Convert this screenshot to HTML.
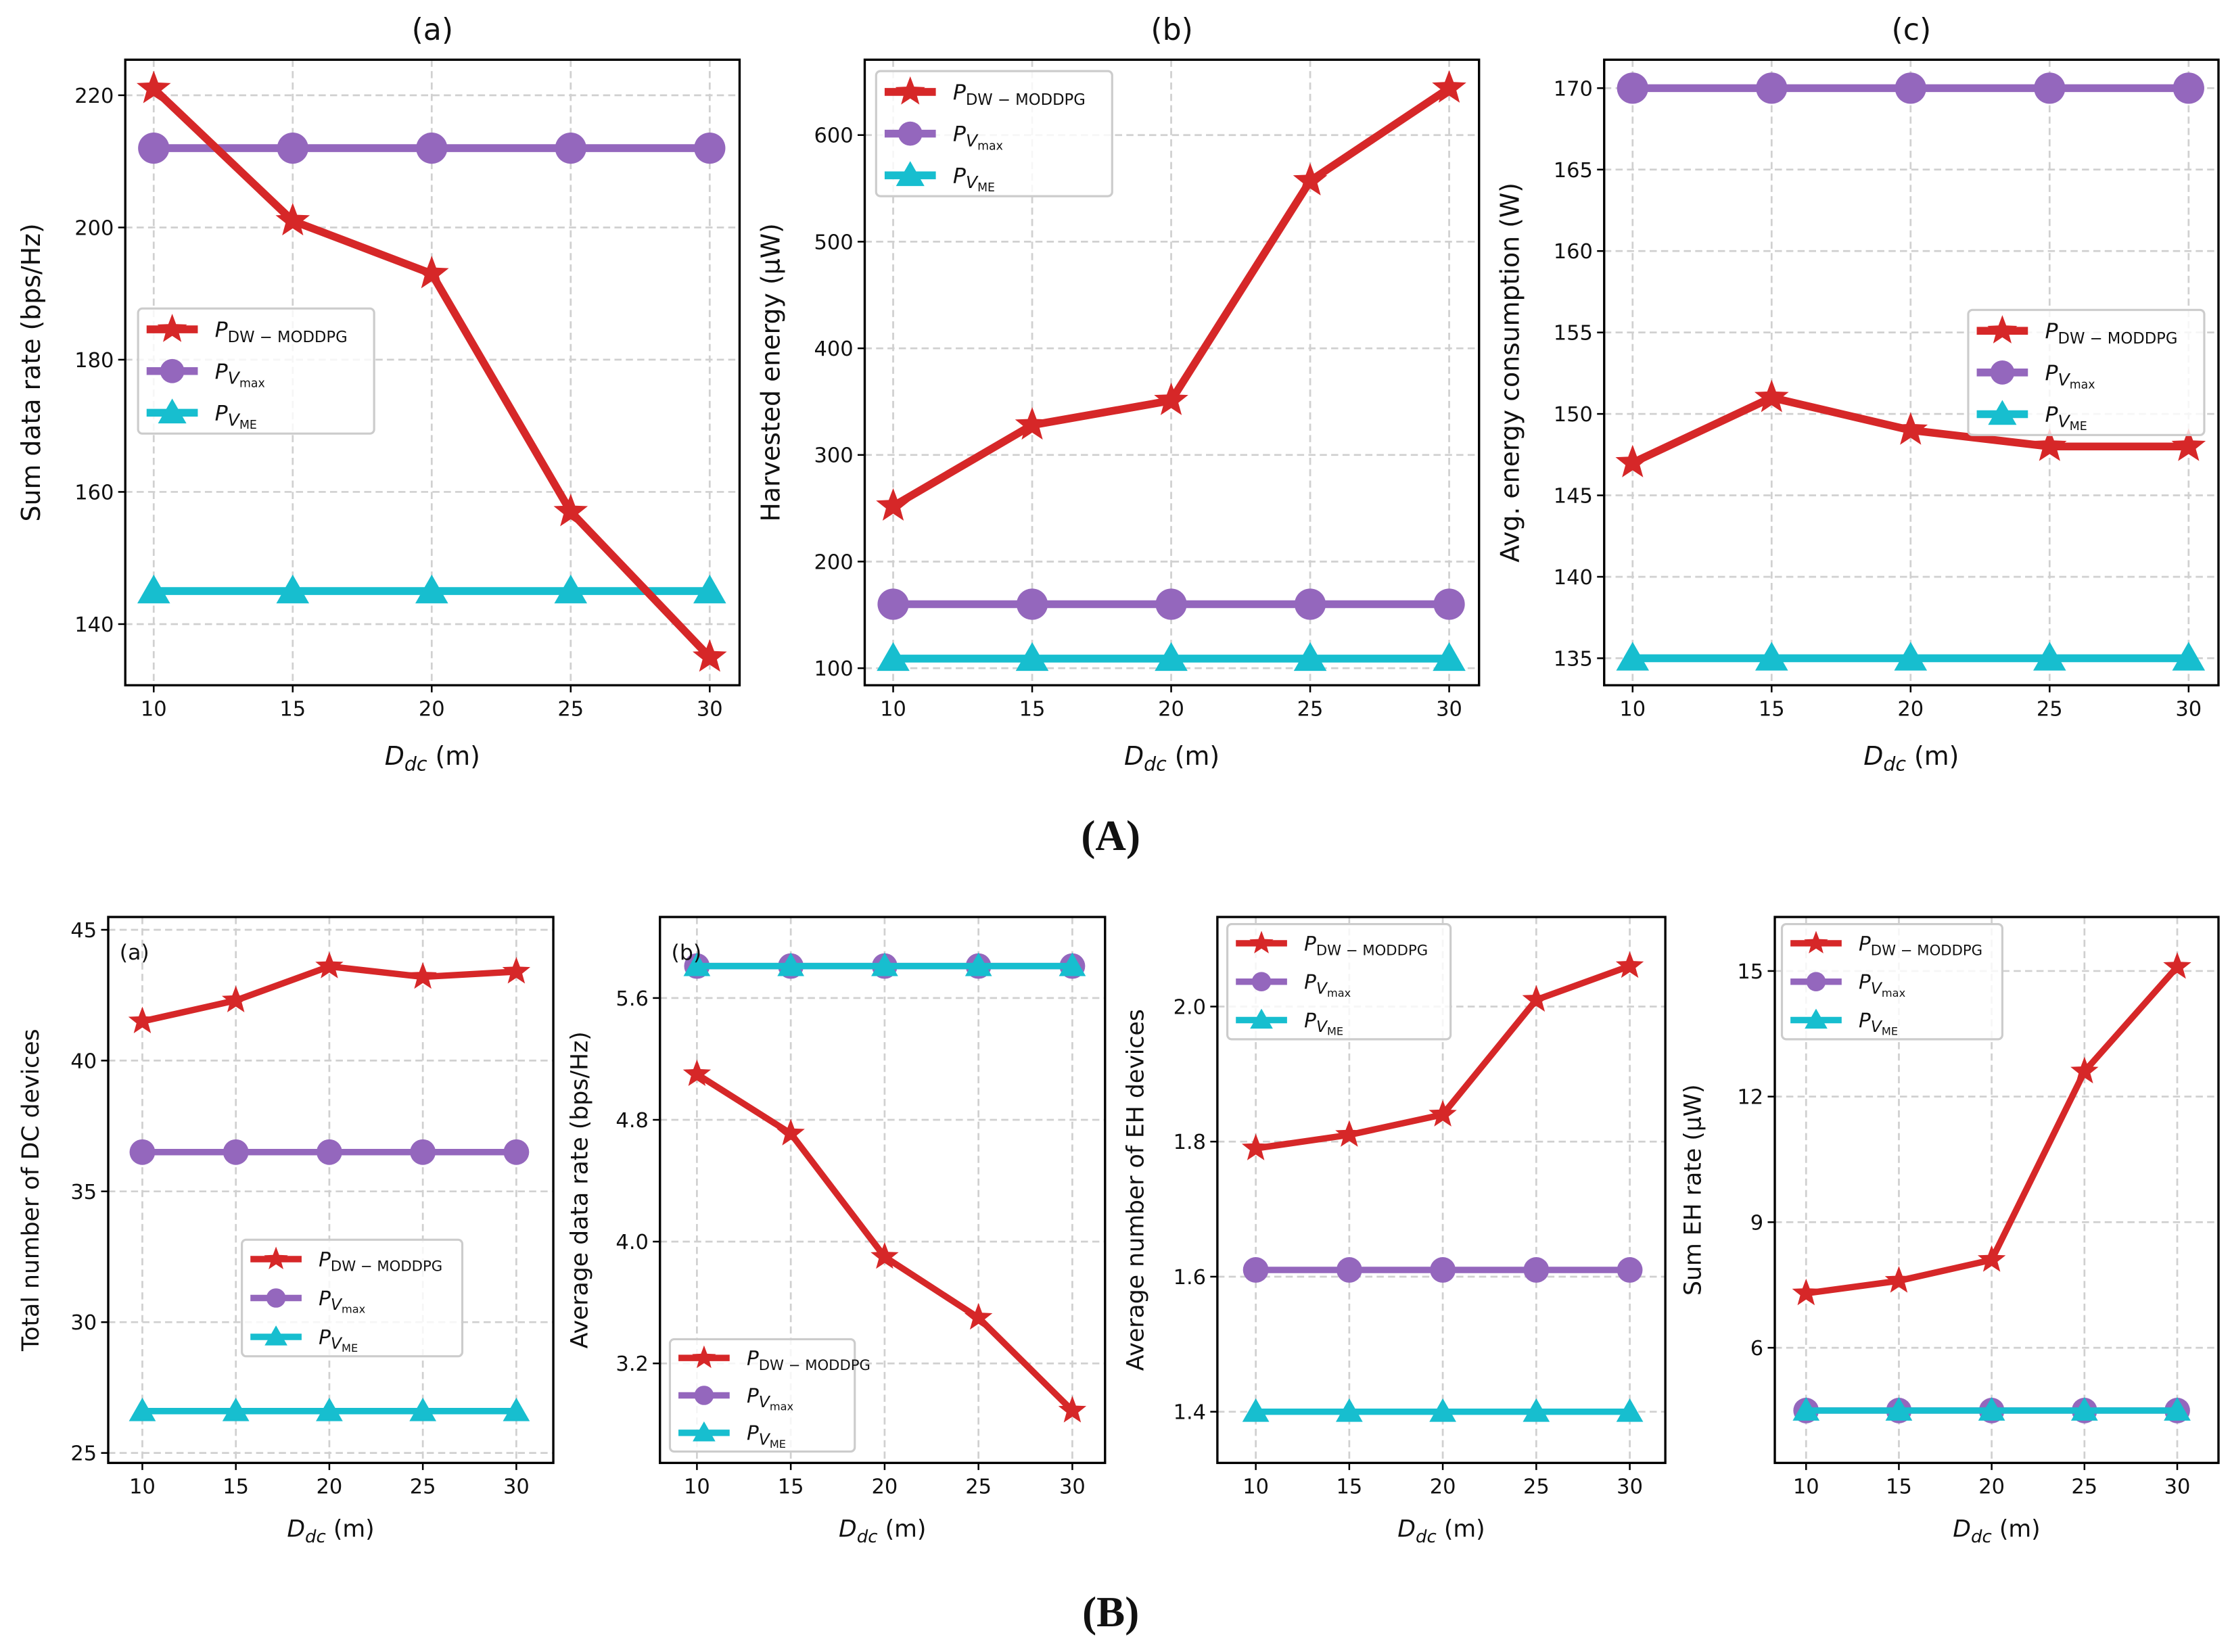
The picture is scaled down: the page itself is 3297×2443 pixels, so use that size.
<!DOCTYPE html>
<html><head><meta charset="utf-8"><style>
html,body{margin:0;padding:0;background:#fff}
svg{display:block}
text{font-family:"DejaVu Sans","Liberation Sans",sans-serif;fill:#111}
</style></head><body>
<svg id="fig" width="3297" height="2443" viewBox="0 0 1568 1162" xmlns="http://www.w3.org/2000/svg">
<rect width="1568" height="1162" fill="#fff"/>
</svg>
<script>
const xCats=[10,15,20,25,30];
const topA_red=[221,201,193,157,135];const topA_pur=[212,212,212,212,212];const topA_cyan=[145,145,145,145,145];
const topB_red=[252,328,351,557,644];const topB_pur=[160,160,160,160,160];const topB_cyan=[109,109,109,109,109];
const topC_red=[147,151,149,148,148];const topC_pur=[170,170,170,170,170];const topC_cyan=[135,135,135,135,135];
const botA_red=[41.5,42.3,43.6,43.2,43.4];const botA_pur=[36.5,36.5,36.5,36.5,36.5];const botA_cyan=[26.6,26.6,26.6,26.6,26.6];
const botB_red=[5.10,4.71,3.90,3.50,2.89];const botB_pur=[5.81,5.81,5.81,5.81,5.81];const botB_cyan=[5.81,5.81,5.81,5.81,5.81];
const botC_red=[1.79,1.81,1.84,2.01,2.06];const botC_pur=[1.61,1.61,1.61,1.61,1.61];const botC_cyan=[1.40,1.40,1.40,1.40,1.40];
const botD_red=[7.3,7.6,8.1,12.6,15.1];const botD_pur=[4.5,4.5,4.5,4.5,4.5];const botD_cyan=[4.5,4.5,4.5,4.5,4.5];
const topA_ticks=[140,160,180,200,220];
const topB_ticks=[100,200,300,400,500,600];
const topC_ticks=[135,140,145,150,155,160,165,170];
const botA_ticks=[25,30,35,40,45];
const botB_ticks=[3.2,4.0,4.8,5.6];
const botC_ticks=[1.4,1.6,1.8,2.0];
const botD_ticks=[6,9,12,15];

const NS="http://www.w3.org/2000/svg";
const svg=document.getElementById('fig');
function el(tag,attrs,parent,txt){const e=document.createElementNS(NS,tag);for(const k in attrs)e.setAttribute(k,attrs[k]);if(txt!==undefined)e.textContent=txt;(parent||svg).appendChild(e);return e;}
function star(cx,cy,r){let p=[];for(let i=0;i<10;i++){const a=-Math.PI/2+i*Math.PI/5;const rr=i%2?r*0.42:r;p.push((cx+rr*Math.cos(a)).toFixed(2)+','+(cy+rr*Math.sin(a)).toFixed(2));}return p.join(' ');}
function tri(cx,cy,r){return `${cx},${cy-r} ${cx-r},${cy+r*0.75} ${cx+r},${cy+r*0.75}`;}
const RED='#d62728',PUR='#9467bd',CY='#17becf';

function legend(g,x,y,w,h,ms,lw,fs){
  const lg=el('g',{},g);
  
  
  el('rect',{x:x,y:y,width:w,height:h,rx:3,fill:'#fff','fill-opacity':0.8,stroke:'#ccc','stroke-width':1.5},lg);
  const rows=[[RED,'star','DW−MODDPG'],[PUR,'circ','max'],[CY,'tri','ME']];
  const step=h/3;
  rows.forEach((r,i)=>{
    const e=el('g',{},lg);
    
    
    const cy=y+step*(i+0.5),x1=x+6,x2=x+42,mx=(x1+x2)/2;
    el('line',{x1:x1,y1:cy,x2:x2,y2:cy,stroke:r[0],'stroke-width':lw},e);
    if(r[1]=='star')el('polygon',{points:star(mx,cy,ms*1.1),fill:r[0]},e);
    if(r[1]=='circ')el('circle',{cx:mx,cy:cy,r:ms*0.85,fill:r[0]},e);
    if(r[1]=='tri')el('polygon',{points:tri(mx,cy,ms),fill:r[0]},e);
    const t=el('text',{x:x+54,y:cy+fs*0.35,'font-size':fs,'font-style':'italic'},e);
    t.textContent='P';
    if(i==0){el('tspan',{'font-style':'normal','font-size':fs*0.72,dy:fs*0.25},t,'DW − MODDPG');}
    else{el('tspan',{'font-size':fs*0.8,dy:fs*0.25},t,'V');el('tspan',{'font-style':'normal','font-size':fs*0.55,dy:fs*0.15},t,r[2]);}
  });
}

function panel(o){
  const g=el('g',{});
  
  
  const xs=v=>o.x10+(v-10)*(o.x30-o.x10)/20;
  const ys=v=>o.py1+(v-o.v1)*(o.py2-o.py1)/(o.v2-o.v1);
  xCats.forEach(c=>el('line',{x1:xs(c),x2:xs(c),y1:o.T,y2:o.B,stroke:'#d0d0d0','stroke-width':1.3,'stroke-dasharray':'5,3'},g));
  o.ticks.forEach(t=>el('line',{x1:o.L,x2:o.R,y1:ys(t),y2:ys(t),stroke:'#d0d0d0','stroke-width':1.3,'stroke-dasharray':'5,3'},g));
  xCats.forEach(c=>{el('line',{x1:xs(c),x2:xs(c),y1:o.B,y2:o.B+5,stroke:'#000','stroke-width':1.2},g);
    const t=el('text',{x:xs(c),y:o.B+o.tfs+7,'font-size':o.tfs,'text-anchor':'middle'},g,String(c));
    });
  o.ticks.forEach(v=>{el('line',{x1:o.L-5,x2:o.L,y1:ys(v),y2:ys(v),stroke:'#000','stroke-width':1.2},g);
    const t=el('text',{x:o.L-8,y:ys(v)+o.tfs*0.36,'font-size':o.tfs,'text-anchor':'end'},g,o.fmt?v.toFixed(1):String(v));
    });
  const series=[[o.pur,PUR,'circ'],[o.cyan,CY,'tri'],[o.red,RED,'star']];
  series.forEach(s=>{
    const sg=el('g',{},g);
    
    
    el('polyline',{points:s[0].map((v,i)=>xs(xCats[i])+','+ys(v)).join(' '),fill:'none',stroke:s[1],'stroke-width':o.lw,'stroke-linejoin':'round'},sg);
    s[0].forEach((v,i)=>{
      let m;
      if(s[2]=='star')m=el('polygon',{points:star(xs(xCats[i]),ys(v),o.ms*1.15),fill:s[1]},sg);
      if(s[2]=='circ')m=el('circle',{cx:xs(xCats[i]),cy:ys(v),r:o.ms,fill:s[1]},sg);
      if(s[2]=='tri')m=el('polygon',{points:tri(xs(xCats[i]),ys(v),o.ms*1.05),fill:s[1]},sg);
      
      
    });
  });
  el('rect',{x:o.L,y:o.T,width:o.R-o.L,height:o.B-o.T,fill:'none',stroke:'#000','stroke-width':1.6},g);
  if(o.inner){const t=el('text',{x:o.L+8,y:o.T+30,'font-size':15},g,o.inner);}
  legend(g,o.lg[0],o.lg[1],o.lg[2],o.lg[3],o.lms,o.llw,o.lfs);
  const yl=el('text',{x:0,y:0,'font-size':o.lfsz,'text-anchor':'middle',transform:`translate(${o.ylx},${(o.T+o.B)/2}) rotate(-90)`},g,o.ylabel);
  
  const xl=el('text',{x:(o.L+o.R)/2,y:o.xly,'font-size':o.lfsz,'text-anchor':'middle'},g);
  
  el('tspan',{'font-style':'italic'},xl,'D');el('tspan',{'font-style':'italic','font-size':o.lfsz*0.75,dy:4},xl,'dc');
  el('tspan',{dy:-4},xl,o.xunit);
  if(o.title){const t=el('text',{x:(o.L+o.R)/2,y:28,'font-size':21,'text-anchor':'middle'},g,o.title);}
}
const TOP={T:42,B:482,tfs:14.5,lw:5.5,ms:11,lms:10,llw:5.5,lfs:15,lfsz:18,xly:538,xunit:' (m)'};
panel(Object.assign({},TOP,{name:'chart-a-top',L:88,R:520,x10:108,x30:499,v1:220,py1:67,v2:140,py2:439,ticks:topA_ticks,red:topA_red,pur:topA_pur,cyan:topA_cyan,lg:[97,217,166,88],ylabel:'Sum data rate (bps/Hz)',ylx:28,title:'(a)'}));
panel(Object.assign({},TOP,{name:'chart-b-top',L:608,R:1040,x10:628,x30:1019,v1:600,py1:95,v2:100,py2:470,ticks:topB_ticks,red:topB_red,pur:topB_pur,cyan:topB_cyan,lg:[616,50,166,88],ylabel:'Harvested energy (μW)',ylx:548,title:'(b)'}));
panel(Object.assign({},TOP,{name:'chart-c-top',L:1128,R:1560,x10:1148,x30:1539,v1:170,py1:62,v2:135,py2:463,ticks:topC_ticks,red:topC_red,pur:topC_pur,cyan:topC_cyan,lg:[1384,218,166,88],ylabel:'Avg. energy consumption (W)',ylx:1068,title:'(c)'}));
const BOT={T:645,B:1029,tfs:14.5,lw:4.5,ms:9,lms:8,llw:4.5,lfs:14,lfsz:16.5,xly:1081,xunit:' (m)'};
panel(Object.assign({},BOT,{name:'chart-a-bottom',L:76,R:389,x10:100,x30:363,v1:45,py1:654,v2:25,py2:1022,ticks:botA_ticks,red:botA_red,pur:botA_pur,cyan:botA_cyan,lg:[170,872,155,82],ylabel:'Total number of DC devices',ylx:27,inner:'(a)'}));
panel(Object.assign({},BOT,{name:'chart-b-bottom',L:464,R:777,x10:490,x30:754,v1:5.6,py1:702,v2:3.2,py2:959,ticks:botB_ticks,fmt:1,red:botB_red,pur:botB_pur,cyan:botB_cyan,lg:[471,942,130,79],ylabel:'Average data rate (bps/Hz)',ylx:413,inner:'(b)'}));
panel(Object.assign({},BOT,{name:'chart-c-bottom',L:856,R:1171,x10:883,x30:1146,v1:2.0,py1:708,v2:1.4,py2:993,ticks:botC_ticks,fmt:1,red:botC_red,pur:botC_pur,cyan:botC_cyan,lg:[863,650,157,81],ylabel:'Average number of EH devices',ylx:804}));
panel(Object.assign({},BOT,{name:'chart-d-bottom',L:1248,R:1560,x10:1270,x30:1531,v1:15,py1:683,v2:6,py2:948,ticks:botD_ticks,red:botD_red,pur:botD_pur,cyan:botD_cyan,lg:[1253,650,155,81],ylabel:'Sum EH rate (μW)',ylx:1196}));
const A=el('text',{x:781,y:598,'font-size':30,'font-weight':'bold','text-anchor':'middle',style:'font-family:"Liberation Serif",serif'},svg,'(A)');

const B=el('text',{x:781,y:1144,'font-size':30,'font-weight':'bold','text-anchor':'middle',style:'font-family:"Liberation Serif",serif'},svg,'(B)');

</script>
</body></html>
